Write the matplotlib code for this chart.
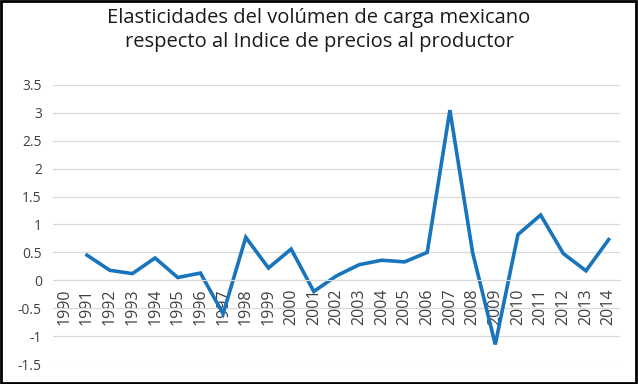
import matplotlib
matplotlib.use("Agg")
import matplotlib.pyplot as plt
from matplotlib.patches import Rectangle

years = [str(y) for y in range(1990, 2015)]
values = [None, 0.45, 0.18, 0.12, 0.40, 0.05, 0.13, -0.60, 0.77, 0.22, 0.56,
          -0.20, 0.08, 0.28, 0.36, 0.33, 0.50, 3.05, 0.50, -1.15, 0.82,
          1.17, 0.48, 0.17, 0.73]
yticks = [-1.5, -1, -0.5, 0, 0.5, 1, 1.5, 2, 2.5, 3, 3.5]
ytick_labels = ["-1.5", "-1", "-0.5", "0", "0.5", "1", "1.5", "2", "2.5", "3", "3.5"]
title = "Elasticidades del volúmen de carga mexicano\nrespecto al Indice de precios al productor"

plt.rcParams['font.family'] = ['Open Sans', 'DejaVu Sans']

fig = plt.figure(figsize=(6.38, 3.84), dpi=100)
ax = fig.add_axes([53/638, 1 - 364/384, (620-53)/638, (364-85)/384])

xs = [i for i, v in enumerate(values) if v is not None]
ys = [v for v in values if v is not None]
ax.plot(xs, ys, color='#1874BC', lw=2.6, solid_joinstyle='miter')

ax.set_xlim(-0.5, len(years) - 0.5)
ax.set_ylim(-1.5, 3.5)
ax.set_yticks(yticks)
ax.set_yticklabels(ytick_labels, fontsize=10, color='#404040')
ax.yaxis.grid(True, color='#D9D9D9', lw=0.9)
ax.set_axisbelow(True)
for s in ['top', 'right', 'left']:
    ax.spines[s].set_visible(False)
ax.spines['bottom'].set_position(('data', 0))
ax.spines['bottom'].set_color('#D9D9D9')
ax.set_xticks(range(len(years)))
ax.set_xticklabels(years, rotation=90, fontsize=11.5, color='#404040')
ax.tick_params(axis='both', length=0, pad=6)
ax.tick_params(axis='y', pad=8)

fig.text(0.5, 1 - 30/384, title, ha='center', va='center', fontsize=14.5,
         color='#1a1a1a', linespacing=1.3)

fig.patches.append(Rectangle((0.002, 0.003), 0.995, 0.994, transform=fig.transFigure,
                             fill=False, edgecolor='black', lw=2))

fig.savefig("out.png", dpi=100)
